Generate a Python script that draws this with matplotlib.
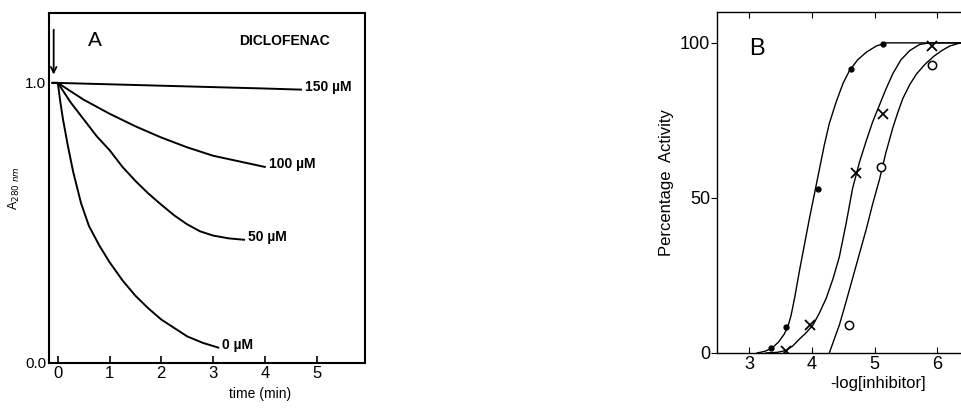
import matplotlib
matplotlib.use('Agg')
import matplotlib.pyplot as plt

plt.rcParams['font.family'] = ['Liberation Sans', 'DejaVu Sans']

# ---------------- panel A : absorbance vs time ----------------
t_150 = [-0.1, 0.0, 1.0, 2.0, 3.0, 4.0, 4.7]
a_150 = [1.0, 1.0, 0.995, 0.99, 0.985, 0.98, 0.976]

t_100 = [-0.1, 0.0, 0.25, 0.5, 0.75, 1.0, 1.5, 2.0, 2.5, 3.0, 3.5, 4.0]
a_100 = [1.0, 1.0, 0.97, 0.94, 0.915, 0.89, 0.845, 0.805, 0.77, 0.74, 0.72, 0.70]

t_50 = [-0.1, 0.0, 0.25, 0.5, 0.75, 1.0, 1.25, 1.5, 1.75, 2.0, 2.25, 2.5, 2.75, 3.0, 3.3, 3.6]
a_50 = [1.0, 1.0, 0.93, 0.87, 0.81, 0.76, 0.70, 0.65, 0.605, 0.565, 0.527, 0.495, 0.47,
        0.455, 0.445, 0.44]

t_0 = [-0.1, 0.0, 0.05, 0.1, 0.2, 0.3, 0.45, 0.6, 0.8, 1.0, 1.25, 1.5, 1.75, 2.0, 2.25,
       2.5, 2.8, 3.1]
a_0 = [1.0, 1.0, 0.93, 0.87, 0.77, 0.68, 0.57, 0.49, 0.42, 0.36, 0.295, 0.24, 0.195,
       0.155, 0.125, 0.095, 0.072, 0.055]

conc_labels = ['150 µM', '100 µM', '50 µM', '0 µM']

# ---------------- panel B : activity vs -log[inhibitor] ----------------
dot_x = [3.35, 3.59, 4.10, 4.62, 5.14]
dot_y = [1.5, 8.5, 53, 91.5, 99.5]
cross_x = [3.59, 3.98, 4.70, 5.14, 5.92]
cross_y = [0.5, 9, 58, 77, 99]
circ_x = [4.60, 5.11, 5.92]
circ_y = [9, 60, 93]

dotfit_x = [3.13, 3.25, 3.37, 3.47, 3.56, 3.62, 3.67, 3.73, 3.80, 3.88, 3.96, 4.04, 4.12,
            4.20, 4.28, 4.39, 4.50, 4.60, 4.73, 4.87, 5.03, 5.19, 6.6]
dotfit_y = [0, 0.5, 1.6, 3.5, 6, 8.5, 12, 18, 26, 34.5, 43, 51, 59, 67, 74, 81, 87, 91,
            94.5, 97, 99, 100, 100]
crossfit_x = [3.27, 3.45, 3.59, 3.70, 3.80, 3.91, 4.02, 4.12, 4.23, 4.34, 4.44, 4.55, 4.65,
              4.76, 4.87, 4.97, 5.08, 5.18, 5.29, 5.42, 5.56, 5.72, 5.88, 6.6]
crossfit_y = [0, 0.2, 0.8, 2.3, 4.4, 6.5, 9, 12.8, 17.6, 24, 31, 42, 53, 61.5, 68.5, 74.5,
              80, 85, 90, 94.5, 97.5, 99.5, 100, 100]
circfit_x = [4.28, 4.36, 4.44, 4.54, 4.65, 4.76, 4.87, 4.97, 5.08, 5.18, 5.29, 5.37, 5.45,
             5.56, 5.67, 5.80, 5.94, 6.07, 6.2, 6.37, 6.6]
circfit_y = [0, 4.5, 9, 16, 24, 32, 40, 48, 56, 64.5, 72.5, 77.5, 82, 86.5, 90, 93, 95.6,
             97.5, 99, 100, 100]

fig = plt.figure(figsize=(9.61, 4.09), dpi=100)

# panel A
axA = fig.add_axes([0.051, 0.1125, 0.329, 0.856])
lw = 1.4
for tx, ay in [(t_150, a_150), (t_100, a_100), (t_50, a_50), (t_0, a_0)]:
    axA.plot(tx, ay, color='black', linewidth=lw)

ends = [(t_150[-1], a_150[-1]), (t_100[-1], a_100[-1]), (t_50[-1], a_50[-1]), (t_0[-1], a_0[-1])]
for (ex, ey), lab in zip(ends, conc_labels):
    axA.text(ex + 0.08, ey + 0.01, lab, fontsize=10, fontweight='bold', va='center', ha='left')

axA.annotate('', xy=(-0.08, 1.02), xytext=(-0.08, 1.2),
             arrowprops=dict(arrowstyle='->', color='black', lw=1.3))
axA.text(0.72, 1.15, 'A', fontsize=15, ha='center', va='center')
axA.text(5.25, 1.15, 'DICLOFENAC', fontsize=10, fontweight='bold', ha='right', va='center')

axA.set_xlim(-0.17, 5.94)
axA.set_ylim(0.0, 1.25)
axA.set_xticks([0, 1, 2, 3, 4, 5])
axA.set_yticks([0.0, 1.0])
axA.set_yticklabels(['0.0', '1.0'])
axA.tick_params(axis='x', direction='in', length=5, width=1.2, labelsize=12, pad=2)
axA.tick_params(axis='y', length=0, labelsize=11, pad=2)
for sp in axA.spines.values():
    sp.set_linewidth(1.5)
axA.text(3.9, -0.112, 'time (min)', fontsize=10, ha='center', va='center')
axA.set_ylabel(r'A$_{280\ nm}$', fontsize=9, labelpad=2)

# panel B
axB = fig.add_axes([0.746, 0.137, 0.262, 0.834])
flw = 1.0
axB.plot(dotfit_x, dotfit_y, color='black', linewidth=flw)
axB.plot(crossfit_x, crossfit_y, color='black', linewidth=flw)
axB.plot(circfit_x, circfit_y, color='black', linewidth=flw)
axB.plot(dot_x, dot_y, 'o', color='black', markersize=3.5)
axB.plot(cross_x, cross_y, 'x', color='black', markersize=7, markeredgewidth=1.3)
axB.plot(circ_x, circ_y, 'o', mfc='white', mec='black', markersize=6, markeredgewidth=1.1)

axB.text(3.12, 98, 'B', fontsize=17, ha='center', va='center', fontweight='light')
axB.set_xlim(2.49, 6.5)
axB.set_ylim(0, 110)
axB.set_xticks([3, 4, 5, 6])
axB.set_yticks([0, 50, 100])
axB.tick_params(axis='x', direction='in', length=4, top=True, labelsize=13, pad=2)
axB.tick_params(axis='y', direction='out', length=4, labelsize=13, pad=1)
for sp in axB.spines.values():
    sp.set_linewidth(1.0)
axB.text(5.05, -10, '-log[inhibitor]', fontsize=12, ha='center', va='center')
axB.set_ylabel('Percentage  Activity', fontsize=12, labelpad=4)

fig.savefig('out.png', dpi=100)
